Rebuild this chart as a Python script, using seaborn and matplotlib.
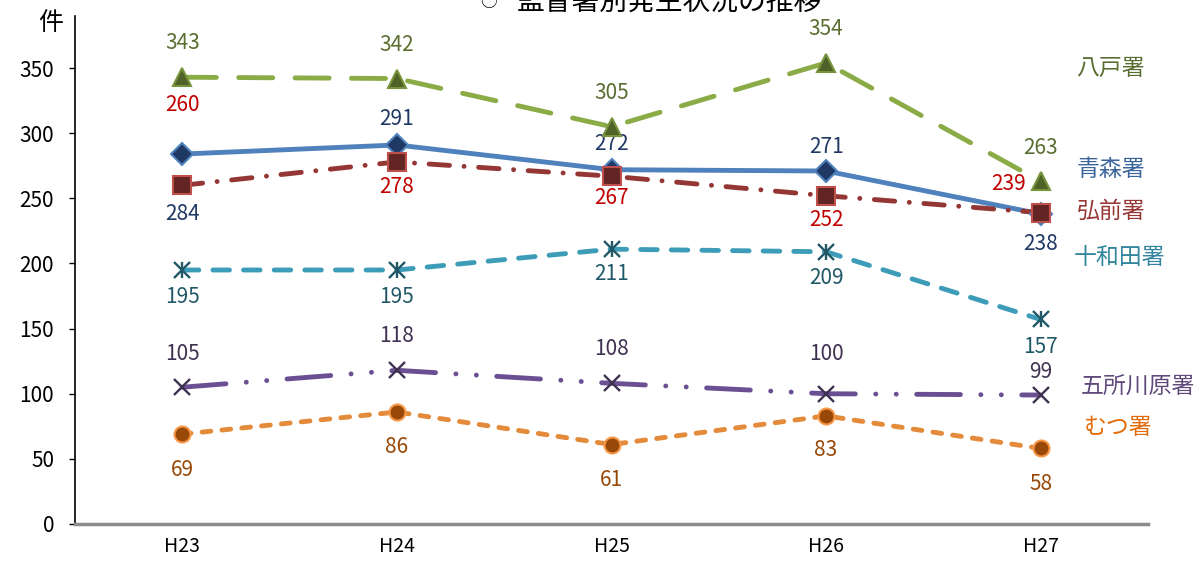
import numpy as np
import pandas as pd
import matplotlib
matplotlib.use("Agg")
import matplotlib.pyplot as plt
import seaborn as sns

sns.set_theme(style="white")
plt.rcParams['font.family'] = ['Noto Sans CJK JP', 'DejaVu Sans']

years = ["H23", "H24", "H25", "H26", "H27"]
series_names = ["八戸署", "青森署", "弘前署", "十和田署", "五所川原署", "むつ署"]
hachinohe = [343, 342, 305, 354, 263]
aomori = [284, 291, 272, 271, 238]
hirosaki = [260, 278, 267, 252, 239]
towada = [195, 195, 211, 209, 157]
goshogawara = [105, 118, 108, 100, 99]
mutsu = [69, 86, 61, 83, 58]
y_ticks = [0, 50, 100, 150, 200, 250, 300, 350]
values = [hachinohe, aomori, hirosaki, towada, goshogawara, mutsu]

# styles
line_colors = ["#8AAB45", "#4F81BD", "#943634", "#3D9DB8", "#6A5092", "#E38B3A"]
mk_face = ["#4F6228", "#1F3864", "#632523", "#215868", "#3F3151", "#984807"]
mk_edge = ["#77933C", "#4F81BD", "#C0504D", "#215868", "#3F3151", "#F79646"]
lbl_colors = ["#5B6E31", "#1F3864", "#C00000", "#215868", "#3F3151", "#984807"]
name_colors = ["#5B6E31", "#3A659B", "#953735", "#31859C", "#604A7B", "#E36C09"]
markers = [["^"], ["D"], ["s"], ["x", "|"], ["x"], ["o"]]
msizes = [12.5, 11.5, 12.5, 12, 11, 11.5]
dashes = [(7.0, 4.6), None, (4.2, 3.0, 0.01, 3.0), (3.4, 2.9), (9.0, 4.2, 0.01, 4.2, 0.01, 4.2), (1.8, 2.3)]
# label offsets in pixels (dx, dy) per point
offsets = [
    [(0, 34), (0, 34), (0, 34), (0, 34), (0, 33)],
    [(0, -60), (0, 26), (0, 26), (0, 24), (0, -30)],
    [(0, 80), (0, -25), (0, -22), (0, -24), (-32, 29)],
    [(0, -27), (0, -27), (0, -25), (0, -26), (0, -28)],
    [(0, 33), (0, 34), (0, 34), (0, 40), (0, 23)],
    [(0, -36), (0, -35), (0, -35), (0, -34), (0, -36)],
]
name_pos = [(1076, 68), (1077, 170), (1077, 211), (1074, 258), (1081, 387), (1084, 428)]

W, H = 1202, 566
fig = plt.figure(figsize=(W / 100, H / 100), dpi=100)
ax = fig.add_axes([75 / W, 1 - 524 / H, (1148 - 75) / W, (524 - 16) / H])

for i, (name, vals) in enumerate(zip(series_names, values)):
    df = pd.DataFrame({"year": years, "count": vals})
    sns.lineplot(data=df, x="year", y="count", ax=ax, color=line_colors[i],
                 linewidth=3.5, marker=None, sort=False, legend=False)
    ln = ax.lines[-1]
    ln.set_solid_capstyle("round")
    ln.set_dash_capstyle("round")
    if dashes[i] is not None:
        ln.set_dashes(dashes[i])
    xs = ln.get_xdata()
    ys = ln.get_ydata()
    mfc = mk_face[i]
    for mk in markers[i]:
        thin = mk in ("x", "|")
        ax.plot(xs, ys, linestyle="none", marker=mk, markersize=msizes[i],
                markerfacecolor=mfc, markeredgecolor=mfc if thin else mk_edge[i],
                markeredgewidth=1.7 if thin else 1.5, zorder=5)
    for j, (x, y) in enumerate(zip(xs, ys)):
        dx, dy = offsets[i][j]
        ax.annotate(str(vals[j]), (x, y), xytext=(dx, dy), textcoords="offset pixels",
                    ha="center", va="center", fontsize=15, color=lbl_colors[i])
    nx, ny = name_pos[i]
    fig.text(nx / W, 1 - ny / H, name, ha="left", va="center", fontsize=16.5,
             color=name_colors[i])

ax.set_xlim(-0.5, 4.5)
ax.set_ylim(0, 390)
ax.set_yticks(y_ticks)
ax.set_yticklabels([str(v) for v in y_ticks], fontsize=15, color="#000000")
ax.set_xticks(range(len(years)))
ax.set_xticklabels(years, fontsize=14, color="#000000")
ax.set_xticks(np.arange(-0.5, 5, 1.0), minor=True)
ax.tick_params(axis="x", which="major", length=0, pad=9)
ax.tick_params(axis="x", which="minor", length=8, width=1.2, color="#8C8C8C", direction="out")
ax.tick_params(axis="y", which="major", length=4, width=1, color="#000000", pad=11, direction="out", left=True)
ax.set_xlabel("")
ax.set_ylabel("")
for s in ["top", "right"]:
    ax.spines[s].set_visible(False)
ax.spines["left"].set_color("#000000")
ax.spines["left"].set_linewidth(1.2)
ax.spines["bottom"].set_color("#8C8C8C")
ax.spines["bottom"].set_linewidth(2.5)
ax.grid(False)

fig.text(51 / W, 1 - 23 / H, "件", ha="center", va="center", fontsize=18, color="#000000")
fig.text(488 / W, 1 - 7 / H, "○", ha="center", va="baseline", fontsize=12, color="#000000")
fig.text(517 / W, 1 - 10 / H, "監督署別発生状況の推移", ha="left", va="baseline",
         fontsize=20, color="#000000")

fig.savefig("out.png", dpi=100)
